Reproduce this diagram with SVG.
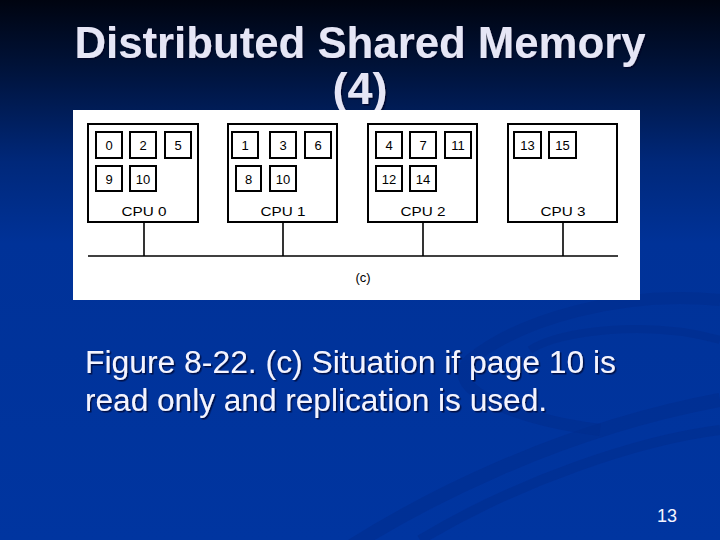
<svg xmlns="http://www.w3.org/2000/svg" width="720" height="540" viewBox="0 0 720 540">
<defs>
<linearGradient id="bg" x1="0" y1="0" x2="0" y2="1">
<stop offset="0" stop-color="#000410"/>
<stop offset="0.12" stop-color="#001238"/>
<stop offset="0.3" stop-color="#00287a"/>
<stop offset="0.45" stop-color="#003298"/>
<stop offset="1" stop-color="#0035a0"/>
</linearGradient>
<filter id="sh" x="-5%" y="-5%" width="110%" height="120%">
<feDropShadow dx="1.5" dy="1.5" stdDeviation="0.6" flood-color="#000020" flood-opacity="0.7"/>
</filter>
<style>
.page{fill:#fff;stroke:#000;stroke-width:2}
.cpu{fill:#fff;stroke:#000;stroke-width:2}
.pt{font-family:"Liberation Sans",Arial,sans-serif;font-size:13px;fill:#000;text-anchor:middle}
.ct{font-family:"Liberation Sans",Arial,sans-serif;font-size:13px;fill:#000;text-anchor:middle}
.wire{stroke:#000;stroke-width:1.6;fill:none}
.title{font-family:"Liberation Sans",Arial,sans-serif;font-weight:bold;font-size:45px;fill:#e6e6f6;text-anchor:middle}
.body{font-family:"Liberation Sans",Arial,sans-serif;font-size:31px;fill:#f4f4ff}
.swoosh{fill:none;stroke:#002c8c;stroke-opacity:0.5}
</style>
</defs>
<rect width="720" height="540" fill="url(#bg)"/>
<g id="background-swooshes">
<path class="swoosh" stroke-width="14" d="M330 560 C 420 500, 560 430, 720 400"/>
<path class="swoosh" stroke-width="10" d="M420 540 C 520 480, 640 440, 720 430"/>
<path class="swoosh" stroke-width="12" d="M720 300 C 620 290, 520 320, 470 360 C 440 390, 520 420, 600 430"/>
<path class="swoosh" stroke-width="8" d="M720 340 C 650 320, 560 330, 530 350"/>
</g>
<g id="title" filter="url(#sh)">
<text class="title" x="360" y="58" textLength="571" lengthAdjust="spacingAndGlyphs">Distributed Shared Memory</text>
<text class="title" x="360" y="104">(4)</text>
</g>
<rect id="figure-panel" x="73" y="110" width="567" height="190" fill="#fff"/>
<g id="connectors">
<line class="wire" x1="88" y1="256" x2="618" y2="256"/>
<line class="wire" x1="144" y1="222" x2="144" y2="256"/>
<line class="wire" x1="283" y1="222" x2="283" y2="256"/>
<line class="wire" x1="423" y1="222" x2="423" y2="256"/>
<line class="wire" x1="563" y1="222" x2="563" y2="256"/>
</g>
<g id="cpu0">
<rect class="cpu" x="88" y="124" width="110" height="98"/>
<rect class="page" x="96" y="132" width="26" height="26"/><text class="pt" x="109" y="150">0</text>
<rect class="page" x="130" y="132" width="26" height="26"/><text class="pt" x="143" y="150">2</text>
<rect class="page" x="165" y="132" width="26" height="26"/><text class="pt" x="178" y="150">5</text>
<rect class="page" x="96" y="166" width="26" height="25"/><text class="pt" x="109" y="184">9</text>
<rect class="page" x="130" y="166" width="26" height="25"/><text class="pt" x="143" y="184">10</text>
<text class="ct" x="144" y="216" textLength="45" lengthAdjust="spacingAndGlyphs">CPU 0</text>
</g>
<g id="cpu1">
<rect class="cpu" x="228" y="124" width="109" height="98"/>
<rect class="page" x="232" y="132" width="26" height="26"/><text class="pt" x="245" y="150">1</text>
<rect class="page" x="270" y="132" width="26" height="26"/><text class="pt" x="283" y="150">3</text>
<rect class="page" x="305" y="132" width="26" height="26"/><text class="pt" x="318" y="150">6</text>
<rect class="page" x="236" y="166" width="25" height="25"/><text class="pt" x="248.5" y="184">8</text>
<rect class="page" x="270" y="166" width="26" height="25"/><text class="pt" x="283" y="184">10</text>
<text class="ct" x="283" y="216" textLength="45" lengthAdjust="spacingAndGlyphs">CPU 1</text>
</g>
<g id="cpu2">
<rect class="cpu" x="368" y="124" width="109" height="98"/>
<rect class="page" x="376" y="132" width="26" height="26"/><text class="pt" x="389" y="150">4</text>
<rect class="page" x="410" y="132" width="26" height="26"/><text class="pt" x="423" y="150">7</text>
<rect class="page" x="445" y="132" width="26" height="26"/><text class="pt" x="458" y="150">11</text>
<rect class="page" x="376" y="166" width="26" height="25"/><text class="pt" x="389" y="184">12</text>
<rect class="page" x="410" y="166" width="26" height="25"/><text class="pt" x="423" y="184">14</text>
<text class="ct" x="423" y="216" textLength="45" lengthAdjust="spacingAndGlyphs">CPU 2</text>
</g>
<g id="cpu3">
<rect class="cpu" x="508" y="124" width="109" height="98"/>
<rect class="page" x="514" y="132" width="27" height="26"/><text class="pt" x="527.5" y="150">13</text>
<rect class="page" x="549" y="132" width="27" height="26"/><text class="pt" x="562.5" y="150">15</text>
<text class="ct" x="563" y="216" textLength="45" lengthAdjust="spacingAndGlyphs">CPU 3</text>
</g>
<text class="pt" x="363" y="282">(c)</text>
<g id="caption" filter="url(#sh)">
<text class="body" x="85" y="373" textLength="531" lengthAdjust="spacingAndGlyphs">Figure 8-22. (c) Situation if page 10 is</text>
<text class="body" x="85" y="411" textLength="462" lengthAdjust="spacingAndGlyphs">read only and replication is used.</text>
</g>
<text x="677" y="522" font-family="'Liberation Sans',Arial,sans-serif" font-size="18" fill="#f4f4ff" text-anchor="end">13</text>
</svg>
